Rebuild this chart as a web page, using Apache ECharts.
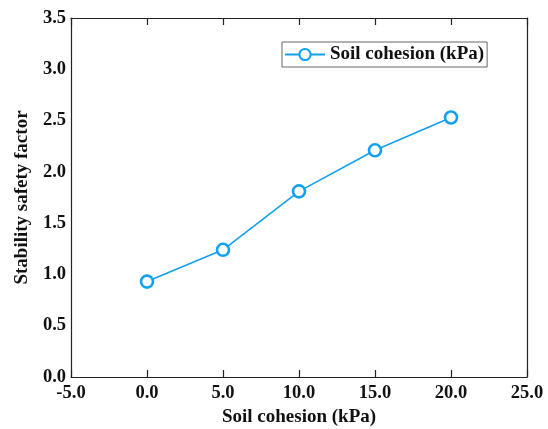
<!DOCTYPE html>
<html>
<head>
<meta charset="utf-8">
<script src="https://cdn.jsdelivr.net/npm/echarts@6/dist/echarts.min.js"></script>
<style>
  html, body { margin: 0; padding: 0; background: #fff; }
  #chart { width: 548px; height: 429px; }
</style>
</head>
<body>
<div id="chart"></div>
<script>
// Soil cohesion (kPa) and the resulting stability safety factor
const cohesion = [0, 5, 10, 15, 20];
const safetyFactor = [0.93, 1.24, 1.81, 2.21, 2.53];
const seriesName = 'Soil cohesion (kPa)';
const xAxisName = 'Soil cohesion (kPa)';
const yAxisName = 'Stability safety factor';

const FONT = '"Liberation Serif", "Times New Roman", serif';
const LINE_COLOR = '#12a0f0';

const chart = echarts.init(document.getElementById('chart'), null, { renderer: 'canvas' });

const axisLine = { show: true, onZero: false, lineStyle: { color: '#222', width: 1.2 } };
const tickStyle = { show: true, inside: true, length: 7, lineStyle: { color: '#222', width: 1.2 } };
const tickLabel = { fontFamily: FONT, fontWeight: 'bold', fontSize: 18.5, color: '#111' };
const nameStyle = { fontFamily: FONT, fontWeight: 'bold', fontSize: 19, color: '#111' };

chart.setOption({
  animation: false,
  backgroundColor: '#fff',
  grid: { left: 71, right: 21, top: 18, bottom: 52, containLabel: false, outerBoundsMode: 'none' },
  legend: {
    left: 282, top: 42,
    orient: 'horizontal',
    padding: [3, 3, 3, 2],
    borderColor: '#666', borderWidth: 1,
    itemWidth: 40, itemHeight: 14, itemGap: 6,
    textStyle: nameStyle,
    data: [seriesName]
  },
  xAxis: [
    {
      type: 'value', min: -5, max: 25, interval: 5,
      name: xAxisName, nameLocation: 'middle', nameGap: 25,
      nameTextStyle: nameStyle,
      axisLine: axisLine,
      axisTick: tickStyle,
      axisLabel: Object.assign({ margin: 7, formatter: v => v.toFixed(1) }, tickLabel),
      splitLine: { show: false }
    },
    {
      type: 'value', min: -5, max: 25, interval: 5, position: 'top',
      axisLine: axisLine,
      axisTick: tickStyle,
      axisLabel: { show: false },
      splitLine: { show: false }
    }
  ],
  yAxis: [
    {
      type: 'value', min: 0, max: 3.5, interval: 0.5,
      name: yAxisName, nameLocation: 'middle', nameGap: 37, nameRotate: 90,
      nameTextStyle: nameStyle,
      axisLine: axisLine,
      axisTick: { show: false },
      axisLabel: Object.assign({ margin: 5, formatter: v => v.toFixed(1) }, tickLabel),
      splitLine: { show: false }
    },
    {
      type: 'value', min: 0, max: 3.5, interval: 0.5, position: 'right',
      axisLine: axisLine,
      axisTick: { show: false },
      axisLabel: { show: false },
      splitLine: { show: false }
    }
  ],
  series: [{
    name: seriesName,
    type: 'line',
    data: cohesion.map((c, i) => [c, safetyFactor[i]]),
    symbol: 'circle',
    symbolSize: 12,
    lineStyle: { color: LINE_COLOR, width: 1.6 },
    itemStyle: { color: '#fff', borderColor: LINE_COLOR, borderWidth: 2.6 }
  }]
});
</script>
</body>
</html>
